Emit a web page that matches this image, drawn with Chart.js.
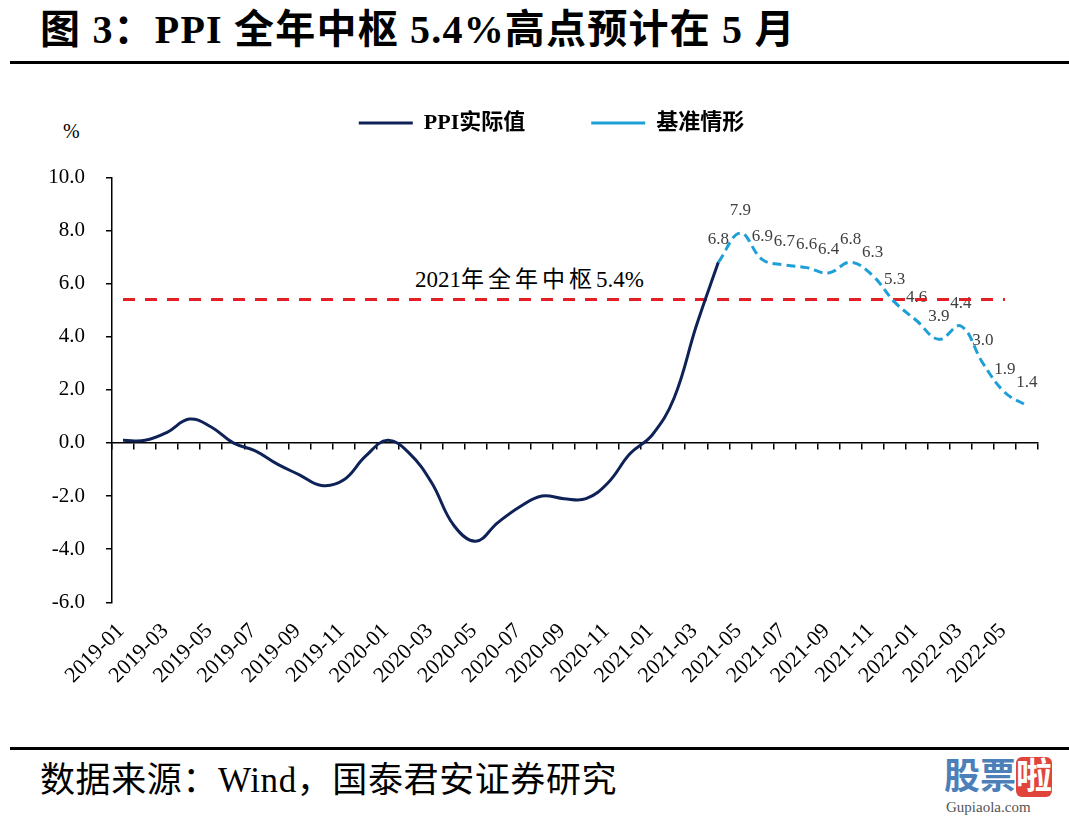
<!DOCTYPE html>
<html><head><meta charset="utf-8">
<script src="https://cdn.jsdelivr.net/npm/chart.js@4.4.1/dist/chart.umd.min.js"></script>
<style>
html,body{margin:0;padding:0;background:#fff;}
#wrap{position:relative;width:1069px;height:819px;overflow:hidden;background:#fff;}
canvas{position:absolute;left:0;top:0;}
.t{position:absolute;white-space:nowrap;color:#000;font-family:"Liberation Serif","Noto Sans CJK SC",serif;}
.rule{position:absolute;left:10px;right:0;height:3px;background:#000;}
</style></head><body>
<div id="wrap">
<div class="t" id="title" style="left:40px;top:10px;line-height:40px;font-size:40px;letter-spacing:1.2px;font-weight:bold;">图 3：PPI 全年中枢 5.4%高点预计在 5 月</div>
<div class="rule" style="top:61px;"></div>
<div class="t" style="left:63px;top:120px;line-height:22px;font-size:20px;">%</div>
<div class="t" style="left:415px;top:267px;line-height:26px;font-size:23px;">2021<span style="letter-spacing:4px;">年全年中枢</span>5.4%</div>
<div class="rule" style="top:747px;"></div>
<div class="t" style="left:40px;top:762px;line-height:38px;font-size:35px;letter-spacing:0.6px;">数据来源：Wind，国泰君安证券研究</div>
<div class="t" style="left:944px;top:757px;line-height:40px;font-size:36px;font-weight:bold;color:#4d7fb8;">股票<span style="color:#fff;background:#e0443a;border-radius:6px;">啦</span></div>
<div class="t" style="left:946px;top:799px;line-height:16px;font-size:15px;color:#555;">Gupiaola.com</div>
<canvas id="c" width="1069" height="819"></canvas>
</div>
<script>
const months = ['2019-01','2019-02','2019-03','2019-04','2019-05','2019-06','2019-07','2019-08','2019-09','2019-10','2019-11','2019-12',
  '2020-01','2020-02','2020-03','2020-04','2020-05','2020-06','2020-07','2020-08','2020-09','2020-10','2020-11','2020-12',
  '2021-01','2021-02','2021-03','2021-04','2021-05','2021-06','2021-07','2021-08','2021-09','2021-10','2021-11','2021-12',
  '2022-01','2022-02','2022-03','2022-04','2022-05','2022-06'];
const ppiActual = [0.1,0.1,0.4,0.9,0.6,0.0,-0.3,-0.8,-1.2,-1.6,-1.4,-0.5,
  0.1,-0.4,-1.5,-3.1,-3.7,-3.0,-2.4,-2.0,-2.1,-2.1,-1.5,-0.4,
  0.3,1.7,4.4,6.8,null,null,null,null,null,null,null,null,
  null,null,null,null,null,null];
const ppiBaseline = [null,null,null,null,null,null,null,null,null,null,null,null,
  null,null,null,null,null,null,null,null,null,null,null,null,
  null,null,null,6.8,7.9,6.9,6.7,6.6,6.4,6.8,6.3,5.3,
  4.6,3.9,4.4,3.0,1.9,1.4];
const midLine = [5.4,5.4,5.4,5.4,5.4,5.4,5.4,5.4,5.4,5.4,5.4,5.4,
  5.4,5.4,5.4,5.4,5.4,5.4,5.4,5.4,5.4,5.4,5.4,5.4,
  5.4,5.4,5.4,5.4,5.4,5.4,5.4,5.4,5.4,5.4,5.4,5.4,
  5.4,5.4,5.4,5.4,5.4,null];
const seriesNames = ['PPI实际值','基准情形','2021年全年中枢'];
const yMin = -6, yMax = 10, yStep = 2;

const SERIF = '"Liberation Serif","Noto Sans CJK SC",serif';

const valueLabels = {
  id:'valueLabels',
  beforeDatasetsDraw(chart){
    const meta = chart.getDatasetMeta(1);
    const ctx = chart.ctx;
    ctx.save();
    ctx.font = '17px "Liberation Serif"';
    ctx.fillStyle = '#404040';
    ctx.textAlign = 'center';
    ctx.textBaseline = 'middle';
    meta.data.forEach((pt,i)=>{
      const v = ppiBaseline[i];
      if (v === null || v === undefined) return;
      ctx.fillText(v.toFixed(1), pt.x, pt.y - 23);
    });
    ctx.restore();
  }
};

new Chart(document.getElementById('c'), {
  type:'line',
  data:{
    labels: months,
    datasets:[
      {label:seriesNames[0], data:ppiActual, borderColor:'#0e2257', backgroundColor:'#0e2257', borderWidth:3, pointRadius:0, tension:0.4, fill:false, order:1},
      {label:seriesNames[1], data:ppiBaseline, borderColor:'#1e9fd8', backgroundColor:'#1e9fd8', borderWidth:3, borderDash:[9,5], pointRadius:0, tension:0.4, fill:false, order:0},
      {label:seriesNames[2], data:midLine, borderColor:'#e31e24', backgroundColor:'#e31e24', borderWidth:3, borderDash:[12,10], pointRadius:0, tension:0, fill:false, order:2}
    ]
  },
  options:{
    responsive:false, animation:false, devicePixelRatio:1,
    layout:{padding:{left:34,right:0,top:46,bottom:0}},
    plugins:{
      legend:{display:true, position:'top', align:'center',
        labels:{filter:(it)=>it.datasetIndex<2, sort:(a,b)=>a.datasetIndex-b.datasetIndex,
          usePointStyle:true, pointStyle:'line', pointStyleWidth:54,
          padding:66, color:'#000', font:{family:SERIF, size:22, weight:'bold'}}},
      tooltip:{enabled:false}
    },
    scales:{
      x:{type:'category', position:'bottom', offset:true,
        grid:{display:false, drawTicks:false}, border:{display:false},
        ticks:{autoSkip:false, maxRotation:45, minRotation:45, padding:16, labelOffset:-2, color:'#000',
          font:{family:SERIF, size:22},
          callback:function(v,i){return i%2===0 ? this.getLabelForValue(v) : '';}},
        afterFit:(s)=>{s.height=216.7; s.paddingLeft=0; s.paddingRight=0;}},
      xTop:{type:'category', position:'top', display:true,
        grid:{display:false, drawTicks:false}, border:{display:false}, ticks:{display:false},
        afterFit:(s)=>{s.height=33.3; s.paddingLeft=0; s.paddingRight=0;}},
      x0:{type:'category', axis:'x', position:{y:0}, offset:true,
        grid:{offset:true, drawOnChartArea:false, drawTicks:true, tickLength:6, color:'#000', lineWidth:1.5},
        border:{display:true, color:'#000', width:1.5},
        ticks:{display:false},
        afterFit:(s)=>{s.paddingLeft=0; s.paddingRight=0;}},
      y:{min:yMin, max:yMax,
        ticks:{stepSize:yStep, padding:21, color:'#000', font:{family:SERIF, size:21}, callback:(v)=>v.toFixed(1)},
        grid:{drawOnChartArea:false, drawTicks:true, tickLength:6, color:'#000', lineWidth:1.5},
        border:{display:true, color:'#000', width:1.5},
        afterFit:(s)=>{s.width=78;}},
      yRight:{type:'linear', position:'right', display:true,
        grid:{display:false, drawTicks:false}, border:{display:false}, ticks:{display:false},
        afterFit:(s)=>{s.width=31;}}
    }
  },
  plugins:[valueLabels]
});
</script>
</body></html>
